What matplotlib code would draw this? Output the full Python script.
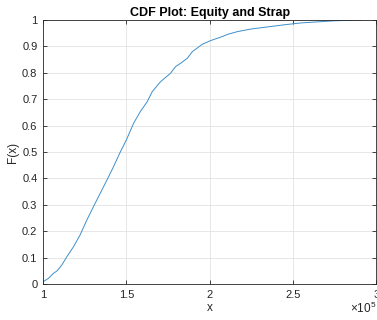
import numpy as np
import matplotlib.pyplot as plt
from matplotlib.ticker import FuncFormatter

x_vals = [100000, 100200, 103200, 106200, 108500, 111300, 114300, 118300, 122300,
          126300, 130300, 134300, 138400, 142000, 146400, 150000, 154400, 158400,
          162500, 165500, 170500, 176500, 179500, 183000, 186600, 189600, 195600,
          200600, 206600, 211000, 216700, 225000, 235000, 245000, 255000, 265000,
          275000, 285000, 291000]
f_vals = [0.0, 0.009, 0.021, 0.040, 0.050, 0.072, 0.103, 0.141, 0.186,
          0.242, 0.293, 0.343, 0.394, 0.44, 0.50, 0.545, 0.609, 0.653,
          0.690, 0.728, 0.766, 0.798, 0.823, 0.838, 0.855, 0.880, 0.908,
          0.922, 0.935, 0.946, 0.956, 0.966, 0.974, 0.982, 0.989, 0.993,
          0.997, 0.999, 1.0]

plt.rcParams['font.family'] = ['Liberation Sans', 'DejaVu Sans']
plt.rcParams['mathtext.fontset'] = 'custom'
plt.rcParams['mathtext.rm'] = 'Liberation Sans'

fig = plt.figure(figsize=(3.77, 3.2), dpi=100)
ax = fig.add_axes([0.114, 0.1125, 0.884, 0.825])

ax.plot(x_vals, f_vals, color='#3d8fcc', lw=0.7)

ax.set_xlim(100000, 300000)
ax.set_ylim(0, 1)
ax.set_xticks([100000, 150000, 200000, 250000, 300000])
ax.xaxis.set_major_formatter(FuncFormatter(lambda v, p: f'{v / 1e5:g}'))
ax.set_yticks(np.arange(0, 1.01, 0.1))
ax.yaxis.set_major_formatter(FuncFormatter(lambda v, p: f'{v:g}'))

ax.grid(True, color='#e3e3e3', lw=0.6)
ax.set_axisbelow(True)
for s in ax.spines.values():
    s.set_color('#262626')
    s.set_linewidth(0.6)
ax.tick_params(direction='in', length=3, width=0.6, colors='#262626',
               labelsize=8, top=True, right=True, pad=4)

ax.set_title('CDF Plot: Equity and Strap', fontsize=9, fontweight='bold',
             color='black', pad=3)
ax.set_xlabel('x', fontsize=8.5, color='#262626', labelpad=2)
ax.set_ylabel('F(x)', fontsize=8.5, color='#262626', labelpad=2)
fig.text(0.928, 0.012, r'$\times\mathrm{10}^{\mathrm{5}}$', fontsize=8.5,
         color='#262626', ha='left', va='bottom')

fig.savefig('out.png', dpi=100)
